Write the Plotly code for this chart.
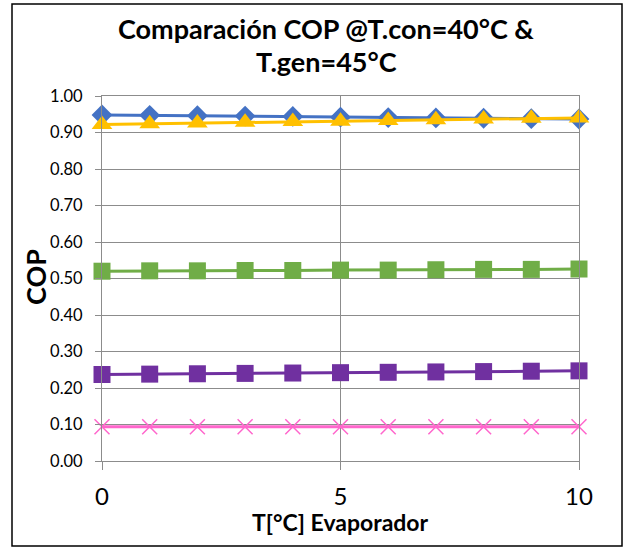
import plotly.graph_objects as go

t_evap = [0, 1, 2, 3, 4, 5, 6, 7, 8, 9, 10]
cop_blue = [0.948, 0.947, 0.946, 0.945, 0.944, 0.942, 0.941, 0.940, 0.939, 0.938, 0.937]
cop_yellow = [0.922, 0.924, 0.926, 0.928, 0.930, 0.931, 0.933, 0.935, 0.937, 0.939, 0.940]
cop_green = [0.520, 0.521, 0.521, 0.522, 0.522, 0.523, 0.523, 0.524, 0.525, 0.525, 0.526]
cop_purple = [0.237, 0.238, 0.239, 0.240, 0.241, 0.242, 0.243, 0.244, 0.245, 0.246, 0.247]
cop_pink = [0.094, 0.094, 0.094, 0.094, 0.094, 0.094, 0.094, 0.094, 0.094, 0.094, 0.094]

y_ticks = [0.0, 0.1, 0.2, 0.3, 0.4, 0.5, 0.6, 0.7, 0.8, 0.9, 1.0]
x_ticks = [0, 5, 10]
title_lines = ["Comparación COP @T.con=40°C &", "T.gen=45°C"]
x_title = "T[°C] Evaporador"
y_title = "COP"

FONT = "Lato"
fig = go.Figure()

series = [
    (cop_pink, "#FF66CC", dict(symbol="x-thin-open", size=15, line=dict(width=1.5, color="#FF66CC"))),
    (cop_purple, "#7030A0", dict(symbol="square", size=17)),
    (cop_green, "#70AD47", dict(symbol="square", size=17)),
    (cop_blue, "#4472C4", dict(symbol="diamond", size=16)),
    (cop_yellow, "#FFC000", dict(symbol="triangle-up", size=18)),
]
for ys, col, mk in series:
    mk = dict(mk)
    mk.setdefault("color", col)
    fig.add_trace(go.Scatter(x=t_evap, y=ys, mode="lines+markers",
                             line=dict(color=col, width=3), marker=mk,
                             showlegend=False, cliponaxis=False))

# plot area in page pixels: x 102..579, y 96..461
PL, PR, PT, PB = 102, 579, 96, 461
W, H = PR - PL, PB - PT
def px(x):
    return (x - PL) / W
def py(y):
    return (PB - y) / H

grid = "#8C8C8C"
def ann(text, x, y, size, angle=0):
    return dict(text="<b>%s</b>" % text, x=px(x), y=py(y), xref="paper", yref="paper",
                xanchor="center", yanchor="middle", showarrow=False, textangle=angle,
                font=dict(size=size, family=FONT, color="black"))

annotations = [
    ann(title_lines[0], 326, 28, 27),
    ann(title_lines[1], 326, 61, 27),
    ann(x_title, 340, 522, 23),
    ann(y_title, 35, 277, 27, -90),
]

fig.update_layout(
    width=626, height=548,
    margin=dict(l=PL, r=626 - PR, t=PT, b=548 - PB),
    paper_bgcolor="white", plot_bgcolor="white",
    font=dict(family=FONT, color="black"),
    annotations=annotations,
    xaxis=dict(range=[0, 10], tickvals=x_ticks, ticktext=[str(v) for v in x_ticks],
               showgrid=True, gridcolor=grid, gridwidth=1,
               showline=True, linecolor=grid, mirror=True,
               ticks="outside", ticklen=8, tickcolor=grid,
               ticklabelstandoff=6,
               tickfont=dict(size=24, family=FONT),
               zeroline=False),
    yaxis=dict(range=[0, 1.0], tickvals=y_ticks, tickformat=".2f",
               showgrid=True, gridcolor=grid, gridwidth=1,
               showline=True, linecolor=grid, mirror=True,
               ticks="outside", ticklen=6, tickcolor=grid,
               ticklabelstandoff=9,
               tickfont=dict(size=16.5, family=FONT),
               zeroline=False),
    shapes=[dict(type="rect", xref="paper", yref="paper",
                 x0=px(12), x1=px(622), y0=py(546), y1=py(4),
                 line=dict(color="black", width=1.5), fillcolor="rgba(0,0,0,0)")],
)

fig.write_html("out.html", config={"displayModeBar": False},
               post_script="document.body.style.margin='0';document.body.style.overflow='hidden';")
